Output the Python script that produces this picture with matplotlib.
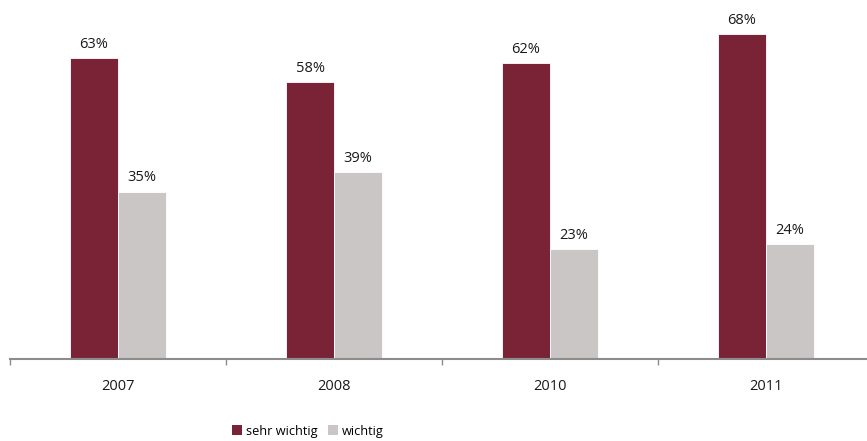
import matplotlib
matplotlib.use("Agg")
import matplotlib.pyplot as plt
import numpy as np
from matplotlib.patches import Patch

years = ["2007", "2008", "2010", "2011"]
sehr_wichtig = [63, 58, 62, 68]
wichtig = [35, 39, 23, 24]
series_names = ["sehr wichtig", "wichtig"]

color_dark = "#7a2336"
color_light = "#cbc6c6"
axis_color = "#8c8c8c"

plt.rcParams["font.family"] = ["Open Sans", "DejaVu Sans"]

W, H = 867, 441
fig = plt.figure(figsize=(W / 100, H / 100), dpi=100)
ax = fig.add_axes([10 / W, (H - 358.5) / H, 864 / W, 357.75 / H])

x = np.arange(len(years))
bw = 0.222
b1 = ax.bar(x - bw / 2, sehr_wichtig, bw, color=color_dark, edgecolor="white", linewidth=0.6)
b2 = ax.bar(x + bw / 2, wichtig, bw, color=color_light, edgecolor="white", linewidth=0.6)

for bars, vals in ((b1, sehr_wichtig), (b2, wichtig)):
    for r, v in zip(bars, vals):
        ax.annotate(f"{v}%", (r.get_x() + r.get_width() / 2, v), xytext=(0, 4.5),
                    textcoords="offset points", ha="center", va="bottom",
                    fontsize=10.5, color="#1a1a1a")

ax.set_xlim(-0.5, len(years) - 0.5)
ax.set_ylim(0, 75)
ax.set_yticks([])
for s in ("top", "right", "left"):
    ax.spines[s].set_visible(False)
ax.spines["bottom"].set_color(axis_color)
ax.spines["bottom"].set_linewidth(1.5)

ax.set_xticks(np.arange(len(years) + 1) - 0.5, minor=False)
ax.set_xticklabels([])
ax.tick_params(axis="x", which="major", length=4, width=1, color=axis_color)
ax.set_xticks(x, minor=True)
ax.set_xticklabels(years, minor=True)
ax.tick_params(axis="x", which="minor", length=0, pad=15, labelsize=10.5, labelcolor="#1a1a1a")

handles = [Patch(facecolor=color_dark), Patch(facecolor=color_light)]
fig.legend(handles, series_names, loc="center", bbox_to_anchor=(308 / W, 1 - 431 / H),
           ncol=2, frameon=False, fontsize=9.2, handlelength=0.75, handleheight=0.75,
           handletextpad=0.35, columnspacing=0.8)

fig.savefig("out.png", dpi=100)
